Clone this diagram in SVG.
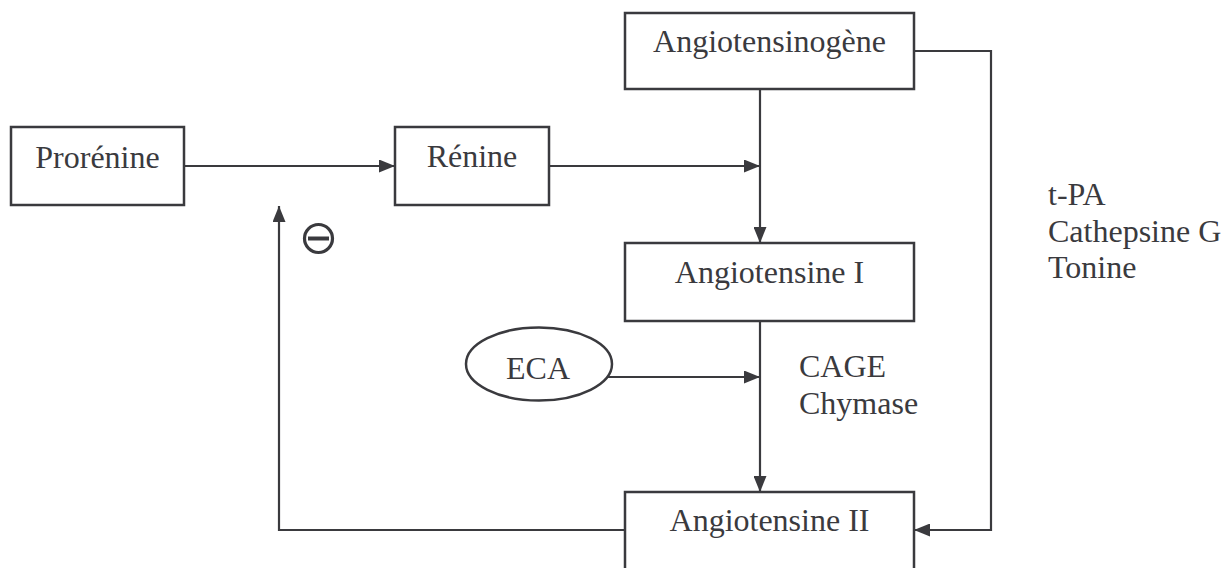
<svg xmlns="http://www.w3.org/2000/svg" width="1232" height="568" viewBox="0 0 1232 568">
<defs>
<style>
.box{fill:#fff;stroke:#3a3a3e;stroke-width:2.5}
.lbl{font-family:"Liberation Serif","Times New Roman",serif;font-size:32px;fill:#3a3a3e}
.mid{text-anchor:middle}
.conn{fill:none;stroke:#3a3a3e;stroke-width:2.2}
</style>
<marker id="arr" markerUnits="userSpaceOnUse" markerWidth="16" markerHeight="13" refX="16" refY="6.5" orient="auto">
<path d="M0,0 L16,6.5 L0,13 z" fill="#3a3a3e"/>
</marker>
</defs>
<rect width="1232" height="568" fill="#fff"/>
<g id="connectors">
<line class="conn" x1="184" y1="166" x2="395" y2="166" marker-end="url(#arr)"/>
<line class="conn" x1="549" y1="166" x2="760" y2="166" marker-end="url(#arr)"/>
<line class="conn" x1="760" y1="89" x2="760" y2="243" marker-end="url(#arr)"/>
<line class="conn" x1="760" y1="321" x2="760" y2="492" marker-end="url(#arr)"/>
<line class="conn" x1="607" y1="377" x2="760" y2="377" marker-end="url(#arr)"/>
<polyline class="conn" points="914,51 991,51 991,530 914,530" marker-end="url(#arr)"/>
<polyline class="conn" points="625,530 279,530 279,206" marker-end="url(#arr)"/>
</g>
<g id="prorenine">
<rect class="box" x="11" y="127" width="173" height="78"/>
<text class="lbl mid" x="97.5" y="168">Prorénine</text>
</g>
<g id="renine">
<rect class="box" x="395" y="127" width="154" height="78"/>
<text class="lbl mid" x="472" y="167">Rénine</text>
</g>
<g id="angiotensinogene">
<rect class="box" x="625" y="13" width="289" height="76"/>
<text class="lbl mid" x="769.5" y="52">Angiotensinogène</text>
</g>
<g id="angiotensine1">
<rect class="box" x="625" y="243" width="289" height="78"/>
<text class="lbl mid" x="769.5" y="283">Angiotensine I</text>
</g>
<g id="angiotensine2">
<rect class="box" x="625" y="492" width="289" height="90"/>
<text class="lbl mid" x="769.5" y="531">Angiotensine II</text>
</g>
<g id="eca">
<ellipse class="box" cx="539" cy="364" rx="73" ry="36.5" stroke-width="2"/>
<text class="lbl mid" x="538" y="379">ECA</text>
</g>
<g id="label-cage">
<text class="lbl" x="799" y="377">CAGE</text>
<text class="lbl" x="799" y="414">Chymase</text>
</g>
<g id="label-tpa">
<text class="lbl" x="1048" y="205">t-PA</text>
<text class="lbl" x="1048" y="242">Cathepsine G</text>
<text class="lbl" x="1048" y="278">Tonine</text>
</g>
<g id="inhibition">
<circle cx="318.5" cy="238.5" r="14" fill="none" stroke="#3a3a3e" stroke-width="3.2"/>
<line x1="308" y1="238.5" x2="329" y2="238.5" stroke="#3a3a3e" stroke-width="4"/>
</g>
</svg>
